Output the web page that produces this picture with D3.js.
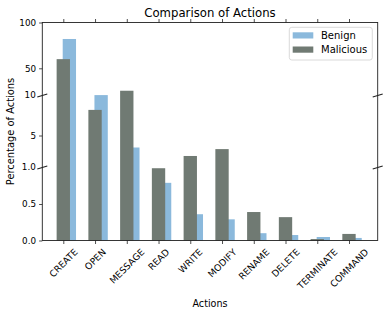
<!DOCTYPE html>
<html><head><meta charset="utf-8">
<script src="https://cdn.jsdelivr.net/npm/d3@7"></script>
<style>body{margin:0;background:#fff}text{font-family:"DejaVu Sans",sans-serif;fill:#000}</style>
</head><body><svg id="c" width="388" height="315"></svg>
<script>
const categories = ["CREATE","OPEN","MESSAGE","READ","WRITE","MODIFY","RENAME","DELETE","TERMINATE","COMMAND"];
const benign    = [82, 10.6, 3.5, 0.79, 0.36, 0.29, 0.10, 0.075, 0.048, 0.035];
const malicious = [60, 8.2, 17, 0.99, 2.44, 3.3, 0.39, 0.32, 0.02, 0.09];
const yTickValues = [0, 0.5, 1, 5, 10, 50, 100];
const yTickLabels = ["0.0","0.5","1.0","5","10","50","100"];
const seriesNames = ["Benign","Malicious"];
const colors = ["#8bb9dc","#707a73"];

const svg = d3.select("#c");
const L = 42.3, R = 377.7, T = 22.5, B = 240.5;
const x = d3.scaleLinear().domain([0, categories.length-1]).range([63.3, 349]);
const step = x(1)-x(0);
const bw = 0.42*step;
// broken axis: piecewise segments 0-1, 1-10, 10-100
const y = d3.scaleLinear().domain([0,1,10,50,100]).range([B,167.5,95.5,68.3,T]);
const breaks = [1,10];

const g = svg.append("g");
g.selectAll(".b").data(benign).join("rect")
  .attr("x",(d,i)=>x(i)-0.6).attr("width",bw)
  .attr("y",d=>y(d)).attr("height",d=>B-y(d)).attr("fill",colors[0]);
g.selectAll(".m").data(malicious).join("rect")
  .attr("x",(d,i)=>x(i)-bw/2).attr("width",bw)
  .attr("y",d=>y(d)).attr("height",d=>B-y(d)).attr("fill",colors[1]);

const lineC = "#222";
svg.append("rect").attr("x",L).attr("y",T).attr("width",R-L).attr("height",B-T)
  .attr("fill","none").attr("stroke",lineC).attr("stroke-width",0.9);

const ya = d3.axisLeft(y).tickValues(yTickValues.filter(v=>!breaks.includes(v)))
  .tickFormat(v=>yTickLabels[yTickValues.indexOf(v)]).tickSize(3.2).tickPadding(3);
const yg = svg.append("g").attr("transform",`translate(${L},0)`).call(ya);
yg.select(".domain").remove();
breaks.forEach(v=>{
  yg.append("text").attr("x",-6.5).attr("y",y(v)).attr("dy","0.32em")
    .attr("text-anchor","end").text(yTickLabels[yTickValues.indexOf(v)]);
});
yg.selectAll("text").attr("font-size",8.8).attr("font-family","DejaVu Sans").attr("fill","#000");
yg.selectAll("line").attr("stroke",lineC).attr("stroke-width",0.8);

breaks.forEach(v=>{
  [L,R].forEach(px=>{
    svg.append("line").attr("x1",px-5).attr("x2",px+5)
      .attr("y1",y(v)+1.5).attr("y2",y(v)-1.5)
      .attr("stroke",lineC).attr("stroke-width",1.1);
  });
});

const xa = d3.axisBottom(x).tickValues(d3.range(categories.length)).tickFormat("").tickSize(3.5);
const xg = svg.append("g").attr("transform",`translate(0,${B})`).call(xa);
xg.select(".domain").remove();
xg.selectAll("line").attr("stroke",lineC).attr("stroke-width",0.8);
const xt = d3.axisTop(x).tickValues(d3.range(categories.length)).tickFormat("").tickSize(3.5);
const xtg = svg.append("g").attr("transform",`translate(0,${T})`).call(xt);
xtg.select(".domain").remove();
xtg.selectAll("line").attr("stroke",lineC).attr("stroke-width",0.8);

categories.forEach((c,i)=>{
  const fs = 9.2;
  const t = svg.append("text").attr("font-size",fs).attr("text-anchor","middle")
    .attr("dominant-baseline","central").text(c);
  const w = t.node().getComputedTextLength();
  const bh = (w+fs)*Math.SQRT1_2;
  const cx = x(i), cy = B+3.5+3+bh/2;
  t.attr("transform",`translate(${cx},${cy}) rotate(-45)`);
});

svg.append("text").attr("x",(L+R)/2).attr("y",17).attr("text-anchor","middle")
  .attr("font-size",11.7).text("Comparison of Actions");
svg.append("text").attr("x",(L+R)/2).attr("y",306.5).attr("text-anchor","middle")
  .attr("font-size",9.6).text("Actions");
svg.append("text").attr("transform",`translate(14.3,${(T+B)/2}) rotate(-90)`)
  .attr("text-anchor","middle").attr("font-size",9.9).text("Percentage of Actions");

const lg = svg.append("g");
lg.append("rect").attr("x",289.3).attr("y",27.3).attr("width",83).attr("height",32.7)
  .attr("rx",2.5).attr("fill","#fff").attr("fill-opacity",0.8).attr("stroke","#d0d0d0").attr("stroke-width",0.8);
seriesNames.forEach((n,i)=>{
  lg.append("rect").attr("x",292.7).attr("y",32.3+i*14.2).attr("width",20.6).attr("height",6.2).attr("fill",colors[i]);
  lg.append("text").attr("x",321).attr("y",35.4+i*14.2).attr("dy","0.35em").attr("font-size",10).text(n);
});
</script></body></html>
